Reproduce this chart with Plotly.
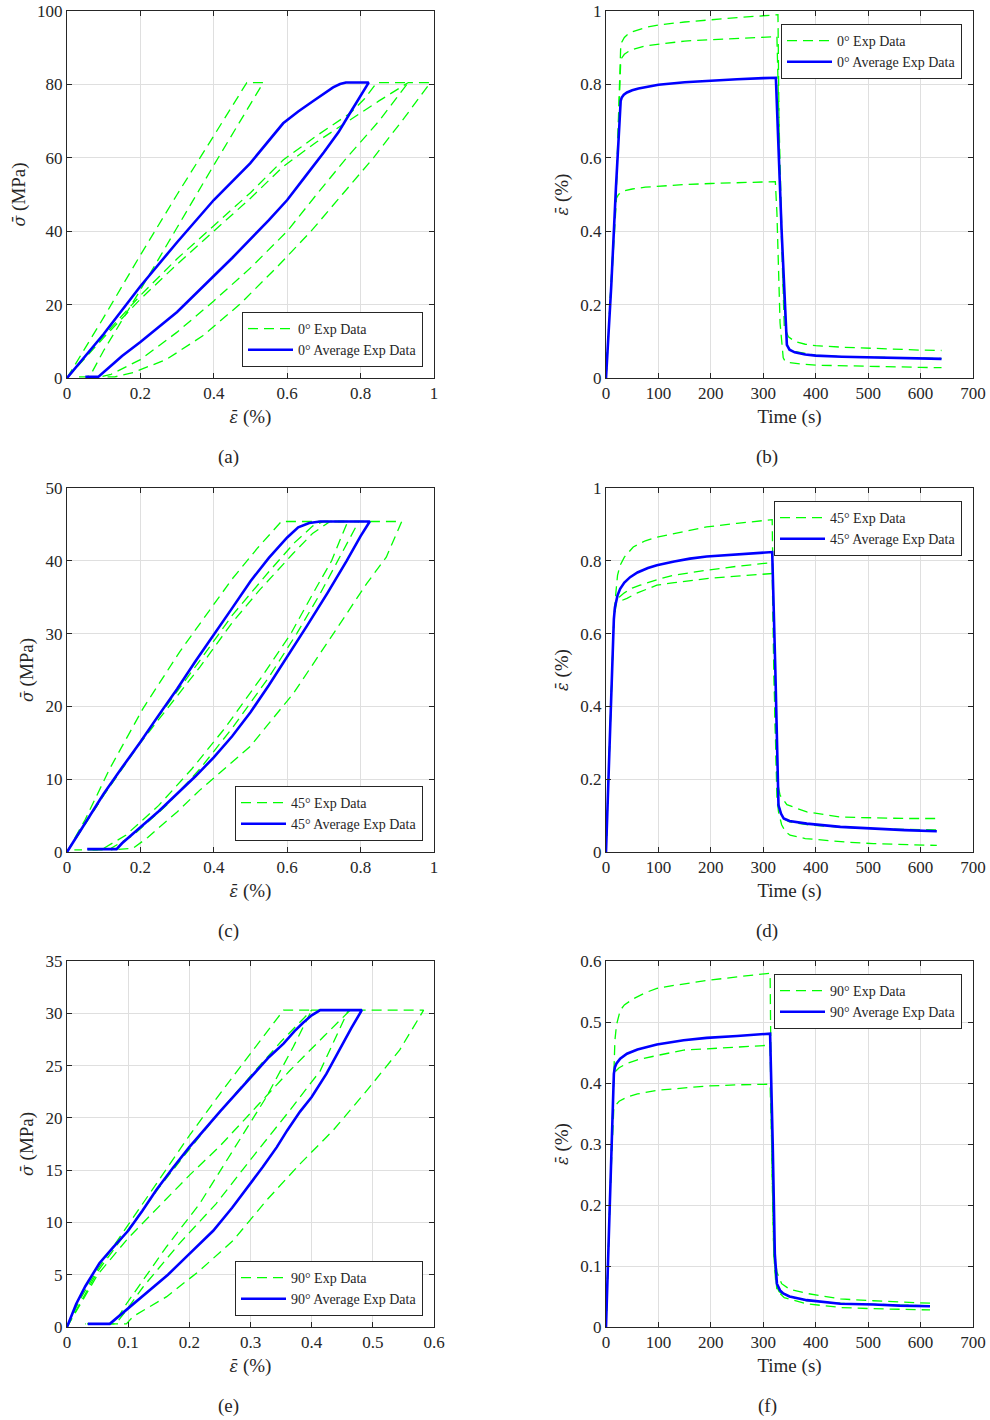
import plotly.graph_objects as go

# ---------------- DATA ----------------
# (a) 0 deg stress-strain loops (strain %, stress MPa)
a_exp1_strain = [0, 0.1, 0.2, 0.3, 0.4, 0.5, 0.589, 0.68, 0.771, 0.85, 0.93, 0.99,
                 0.92, 0.835, 0.75, 0.665, 0.57, 0.47, 0.37, 0.27, 0.18, 0.13, 0.10]
a_exp1_stress = [0, 11, 21.5, 31, 40, 49, 57.6, 64.3, 70.3, 75.5, 80.5, 80.5,
                 71, 60, 50, 40, 30, 20, 11.5, 5, 1.5, 0.3, 0.3]
a_exp2_strain = [0, 0.1, 0.2, 0.3, 0.4, 0.5, 0.589, 0.68, 0.771, 0.81, 0.844, 0.93,
                 0.85, 0.762, 0.68, 0.6, 0.5, 0.4, 0.3, 0.2, 0.12, 0.09, 0.06]
a_exp2_stress = [0, 11.5, 22.5, 32.5, 41.5, 50.5, 59.4, 66, 72.1, 76, 80.5, 80.5,
                 70, 60, 50, 40, 30, 21, 12.5, 5, 1, 0.3, 0.3]
a_exp3_strain = [0, 0.1, 0.2, 0.3, 0.4, 0.49, 0.535,
                 0.45, 0.4, 0.3, 0.2, 0.1, 0.065, 0.055, 0.03]
a_exp3_stress = [0, 16.5, 33.5, 50, 66, 80.5, 80.5,
                 66.5, 58, 41, 24, 7.5, 1, 0.3, 0.3]
a_avg_strain = [0, 0.05, 0.1, 0.2, 0.3, 0.4, 0.499, 0.589, 0.63, 0.67, 0.7, 0.725, 0.744,
                0.76, 0.822, 0.8, 0.77, 0.74, 0.7, 0.65, 0.6, 0.55, 0.5, 0.45, 0.4, 0.3,
                0.2, 0.15, 0.13, 0.1, 0.085, 0.05]
a_avg_stress = [0, 6, 12, 25, 37, 48.5, 58.5, 69.4, 72.6, 75.4, 77.6, 79.2, 80.1,
                80.5, 80.5, 77, 72, 67, 61.5, 55, 48.5, 43, 37.8, 32.7, 27.8, 18,
                9.8, 6, 4.2, 1.5, 0.3, 0.3]

# (b) 0 deg strain vs time (s, %)
b_exp1_time = [0, 10, 20, 24, 28, 30, 35, 42, 50, 75, 100, 150, 200, 250, 300, 328, 331,
               340, 348, 360, 380, 400, 450, 500, 550, 600, 640]
b_exp1_strain = [0, 0.26, 0.53, 0.72, 0.90, 0.915, 0.928, 0.937, 0.943, 0.955, 0.962,
                 0.970, 0.977, 0.982, 0.987, 0.99, 0.55, 0.14, 0.112, 0.1, 0.092, 0.088,
                 0.084, 0.081, 0.078, 0.076, 0.075]
b_exp2_time = [0, 10, 20, 24, 28, 30, 35, 42, 50, 75, 100, 150, 200, 250, 300, 326, 330,
               338, 345, 350, 360, 380, 400, 450, 500, 550, 600, 640]
b_exp2_strain = [0, 0.26, 0.53, 0.7, 0.86, 0.872, 0.882, 0.889, 0.895, 0.905, 0.91, 0.918,
                 0.922, 0.925, 0.928, 0.93, 0.7, 0.25, 0.09, 0.078, 0.072, 0.066, 0.062,
                 0.058, 0.056, 0.055, 0.054, 0.053]
b_exp3_time = [0, 10, 20, 24, 28, 35, 50, 75, 100, 150, 200, 250, 300, 323, 326, 332, 338,
               342, 350, 360, 380, 400, 450, 500, 550, 600, 640]
b_exp3_strain = [0, 0.25, 0.49, 0.5, 0.505, 0.51, 0.515, 0.52, 0.523, 0.527, 0.53, 0.532,
                 0.534, 0.535, 0.45, 0.15, 0.055, 0.045, 0.042, 0.04, 0.037, 0.035, 0.033,
                 0.031, 0.03, 0.029, 0.028]
b_avg_time = [0, 10, 19, 24, 28, 30, 34, 40, 50, 62, 75, 100, 150, 200, 250, 300, 324, 335,
              345, 350, 360, 380, 400, 450, 500, 550, 600, 640]
b_avg_strain = [0, 0.25, 0.52, 0.64, 0.755, 0.764, 0.772, 0.778, 0.784, 0.789, 0.793, 0.799,
                0.806, 0.811, 0.814, 0.817, 0.818, 0.40, 0.09, 0.077, 0.07, 0.064, 0.061,
                0.058, 0.056, 0.054, 0.053, 0.052]

# (c) 45 deg stress-strain loops
c_exp1_strain = [0, 0.05, 0.116, 0.207, 0.307, 0.362, 0.45, 0.52, 0.584, 0.795,
                 0.77, 0.739, 0.69, 0.626, 0.55, 0.45, 0.362, 0.271, 0.18, 0.12, 0.1, 0.06]
c_exp1_stress = [0, 4.5, 11.4, 19.7, 27.5, 31.4, 37.5, 41.8, 45.4, 45.4,
                 43, 40, 35.5, 30, 24, 17, 11.4, 6.4, 2.3, 0.5, 0.3, 0.3]
c_exp2_strain = [0, 0.1, 0.2, 0.3, 0.362, 0.45, 0.525, 0.616, 0.67, 0.717, 0.912,
                 0.87, 0.817, 0.726, 0.617, 0.499, 0.362, 0.3, 0.22, 0.18, 0.12]
c_exp2_stress = [0, 7.8, 15, 21.5, 25.4, 31.5, 36, 41, 43.8, 45.4, 45.4,
                 40.5, 36.9, 30, 21.8, 14.5, 8.5, 5.5, 2, 0.5, 0.3]
c_exp3_strain = [0, 0.1, 0.2, 0.3, 0.362, 0.45, 0.55, 0.62, 0.67, 0.70, 0.765,
                 0.745, 0.721, 0.67, 0.61, 0.53, 0.43, 0.34, 0.25, 0.16, 0.1, 0.08, 0.02]
c_exp3_stress = [0, 7.8, 15.2, 22, 26.3, 32.5, 38.5, 42.5, 44.8, 45.4, 45.4,
                 43, 40, 35.5, 30, 24, 17, 11.4, 6.4, 2.3, 0.5, 0.3, 0.3]
c_avg_strain = [0, 0.05, 0.1, 0.15, 0.2, 0.25, 0.3, 0.35, 0.4, 0.45, 0.5, 0.55, 0.6, 0.63,
                0.66, 0.69, 0.825, 0.8, 0.762, 0.71, 0.653, 0.6, 0.55, 0.5, 0.45, 0.4,
                0.35, 0.3, 0.25, 0.2, 0.15, 0.135, 0.055]
c_avg_stress = [0, 4, 8, 11.6, 15.1, 18.8, 22.4, 26.2, 29.8, 33.5, 37.2, 40.4, 43.2, 44.6,
                45.2, 45.4, 45.4, 43.4, 40, 35.6, 31, 26.8, 22.9, 19.2, 15.9, 13,
                10.4, 8, 5.6, 3.4, 1.2, 0.4, 0.4]

# (d) 45 deg strain vs time
d_exp1_time = [0, 8, 15, 18, 22, 27, 35, 52, 75, 97, 130, 160, 192, 250, 317, 318, 322,
               326, 332, 345, 383, 447, 510, 570, 631]
d_exp1_strain = [0, 0.35, 0.64, 0.70, 0.76, 0.788, 0.81, 0.838, 0.855, 0.865, 0.875, 0.884,
                 0.893, 0.903, 0.913, 0.8, 0.4, 0.2, 0.156, 0.13, 0.11, 0.096, 0.093,
                 0.092, 0.092]
d_exp2_time = [0, 8, 15, 19, 25, 35, 50, 65, 97, 128, 160, 192, 250, 317, 322, 328, 334,
               340, 350, 383, 447, 510, 570, 631]
d_exp2_strain = [0, 0.35, 0.64, 0.69, 0.70, 0.712, 0.725, 0.733, 0.748, 0.76, 0.768, 0.774,
                 0.785, 0.795, 0.5, 0.14, 0.1, 0.09, 0.083, 0.075, 0.068, 0.064, 0.062, 0.061]
d_exp3_time = [0, 8, 15, 20, 25, 40, 60, 97, 130, 160, 192, 250, 317, 320, 326, 329, 335,
               342, 351, 380, 415, 460, 510, 570, 631]
d_exp3_strain = [0, 0.35, 0.64, 0.685, 0.688, 0.697, 0.712, 0.733, 0.74, 0.746, 0.751, 0.758,
                 0.765, 0.5, 0.15, 0.11, 0.075, 0.056, 0.046, 0.037, 0.032, 0.027, 0.023,
                 0.02, 0.018]
d_avg_time = [0, 8, 15, 17, 19, 22, 27, 35, 46, 60, 80, 97, 130, 160, 192, 250, 317, 323,
              329, 334, 339, 350, 383, 447, 510, 570, 631]
d_avg_strain = [0, 0.35, 0.64, 0.672, 0.69, 0.705, 0.723, 0.74, 0.755, 0.768, 0.78, 0.788,
                0.798, 0.806, 0.812, 0.818, 0.824, 0.5, 0.128, 0.105, 0.092, 0.085, 0.078,
                0.069, 0.064, 0.06, 0.057]

# (e) 90 deg stress-strain loops
e_exp1_strain = [0, 0.05, 0.1, 0.15, 0.2, 0.25, 0.3, 0.364, 0.42, 0.463, 0.583,
                 0.544, 0.49, 0.435, 0.381, 0.326, 0.272, 0.217, 0.163, 0.108, 0.097, 0.03]
e_exp1_stress = [0, 5, 8.5, 11.5, 14.5, 17.3, 20.5, 24.5, 27.8, 30.3, 30.3,
                 26.5, 22.6, 18.8, 15.6, 12.1, 8.3, 5.4, 2.9, 1, 0.3, 0.3]
e_exp2_strain = [0, 0.05, 0.1, 0.15, 0.2, 0.25, 0.3, 0.35, 0.40, 0.46,
                 0.414, 0.364, 0.304, 0.244, 0.184, 0.124, 0.097, 0.08, 0.05]
e_exp2_stress = [0, 5.3, 9.3, 13.3, 17, 20.6, 24, 27.3, 30.3, 30.3,
                 24.5, 20.7, 16.3, 11.8, 8, 3.8, 1.6, 0.3, 0.3]
e_exp3_strain = [0, 0.02, 0.05, 0.1, 0.15, 0.2, 0.25, 0.3, 0.33, 0.354, 0.40,
                 0.37, 0.326, 0.272, 0.217, 0.163, 0.119, 0.097, 0.08, 0.07, 0.03]
e_exp3_stress = [0, 2.5, 5.5, 9.8, 14, 18.3, 22.3, 26.2, 28.5, 30.3, 30.3,
                 26.8, 22, 16.9, 11.8, 7.7, 4.1, 2.2, 0.6, 0.3, 0.3]
e_avg_strain = [0, 0.015, 0.03, 0.053, 0.075, 0.1, 0.123, 0.146, 0.173, 0.2, 0.25, 0.3,
                0.33, 0.354, 0.372, 0.386, 0.4, 0.414, 0.482, 0.465, 0.445, 0.424, 0.4,
                0.381, 0.36, 0.343, 0.32, 0.3, 0.27, 0.239, 0.215, 0.195, 0.165, 0.135,
                0.115, 0.097, 0.081, 0.07, 0.034]
e_avg_stress = [0, 2.2, 3.9, 6.1, 7.6, 9.2, 11.1, 13.1, 15.2, 17.2, 20.6, 23.9,
                25.8, 27.1, 28.3, 29.1, 29.8, 30.3, 30.3, 28.6, 26.4, 24.2, 22,
                20.6, 18.8, 17.2, 15.3, 13.7, 11.4, 9.2, 7.8, 6.7, 5, 3.5,
                2.5, 1.6, 0.8, 0.3, 0.3]

# (f) 90 deg strain vs time
f_exp1_time = [0, 8, 15, 17, 20, 27, 35, 52, 75, 97, 130, 160, 192, 250, 313, 315, 318, 322,
               326, 335, 350, 383, 447, 510, 560, 618]
f_exp1_strain = [0, 0.22, 0.415, 0.47, 0.495, 0.519, 0.528, 0.538, 0.548, 0.555, 0.56, 0.564,
                 0.568, 0.574, 0.58, 0.4, 0.2, 0.12, 0.09, 0.071, 0.062, 0.055, 0.046, 0.043,
                 0.041, 0.039]
f_exp2_time = [0, 8, 15, 17, 25, 40, 60, 97, 148, 192, 250, 313, 316, 320, 324, 330, 340,
               383, 447, 510, 560, 618]
f_exp2_strain = [0, 0.22, 0.415, 0.418, 0.425, 0.432, 0.438, 0.445, 0.454, 0.456, 0.459,
                 0.462, 0.3, 0.12, 0.07, 0.058, 0.052, 0.043, 0.039, 0.037, 0.036, 0.035]
f_exp3_time = [0, 8, 15, 17, 25, 40, 60, 97, 148, 192, 250, 300, 313, 316, 320, 326, 340,
               383, 447, 510, 560, 618]
f_exp3_strain = [0, 0.22, 0.36, 0.362, 0.37, 0.377, 0.382, 0.388, 0.392, 0.395, 0.397, 0.398,
                 0.398, 0.3, 0.12, 0.06, 0.048, 0.038, 0.032, 0.03, 0.029, 0.028]
f_avg_time = [0, 8, 15, 17, 20, 27, 40, 60, 97, 148, 192, 250, 313, 318, 322, 326, 332, 338,
              350, 383, 447, 510, 560, 618]
f_avg_strain = [0, 0.22, 0.415, 0.426, 0.432, 0.44, 0.448, 0.455, 0.463, 0.47, 0.474, 0.477,
                0.481, 0.3, 0.12, 0.071, 0.06, 0.055, 0.05, 0.044, 0.038, 0.037, 0.035, 0.034]

orientations = ["0°", "45°", "90°"]
panel_labels = ["(a)", "(b)", "(c)", "(d)", "(e)", "(f)"]

# ---------------- STYLE ----------------
GREEN = "#00ff00"
BLUE = "#0000ff"
AXC = "#262626"
GRID = "#dfdfdf"
FONT = "Liberation Serif"
W, H = 990, 1420

col_px = [(67, 434), (606, 973)]
row_px = [(11, 378), (488, 852), (961, 1327)]

panels = [
    dict(exps=[(a_exp1_strain, a_exp1_stress), (a_exp2_strain, a_exp2_stress),
               (a_exp3_strain, a_exp3_stress)], avg=(a_avg_strain, a_avg_stress),
         ori=0, xr=[0, 1], xd=0.2, yr=[0, 100], yd=20, kind="ss", leg="br"),
    dict(exps=[(b_exp1_time, b_exp1_strain), (b_exp2_time, b_exp2_strain),
               (b_exp3_time, b_exp3_strain)], avg=(b_avg_time, b_avg_strain),
         ori=0, xr=[0, 700], xd=100, yr=[0, 1], yd=0.2, kind="ts", leg="tr"),
    dict(exps=[(c_exp1_strain, c_exp1_stress), (c_exp2_strain, c_exp2_stress),
               (c_exp3_strain, c_exp3_stress)], avg=(c_avg_strain, c_avg_stress),
         ori=1, xr=[0, 1], xd=0.2, yr=[0, 50], yd=10, kind="ss", leg="br"),
    dict(exps=[(d_exp1_time, d_exp1_strain), (d_exp2_time, d_exp2_strain),
               (d_exp3_time, d_exp3_strain)], avg=(d_avg_time, d_avg_strain),
         ori=1, xr=[0, 700], xd=100, yr=[0, 1], yd=0.2, kind="ts", leg="tr"),
    dict(exps=[(e_exp1_strain, e_exp1_stress), (e_exp2_strain, e_exp2_stress),
               (e_exp3_strain, e_exp3_stress)], avg=(e_avg_strain, e_avg_stress),
         ori=2, xr=[0, 0.6], xd=0.1, yr=[0, 35], yd=5, kind="ss", leg="br"),
    dict(exps=[(f_exp1_time, f_exp1_strain), (f_exp2_time, f_exp2_strain),
               (f_exp3_time, f_exp3_strain)], avg=(f_avg_time, f_avg_strain),
         ori=2, xr=[0, 700], xd=100, yr=[0, 0.6], yd=0.1, kind="ts", leg="tr"),
]

fig = go.Figure()
layout = dict(width=W, height=H, margin=dict(l=0, r=0, t=0, b=0, pad=0), autosize=False,
              paper_bgcolor="white", plot_bgcolor="white",
              font=dict(family=FONT, color=AXC), annotations=[])

eps_title = '<span style="font-family:DejaVu Serif;font-size:16px"><i>ε̄</i></span> (%)'
sig_title = '<span style="font-family:DejaVu Serif;font-size:16px"><i>σ̄</i></span> (MPa)'

for i, p in enumerate(panels):
    r, c = divmod(i, 2)
    n = "" if i == 0 else str(i + 1)
    xa, ya = "x" + n, "y" + n
    legname = "legend" + n
    x0, x1 = col_px[c]
    y0, y1 = row_px[r]
    name = orientations[p["ori"]]
    for j, (xs, ys) in enumerate(p["exps"]):
        fig.add_trace(go.Scatter(x=xs, y=ys, mode="lines", xaxis=xa, yaxis=ya,
                                 line=dict(color=GREEN, width=1.3, dash="10px,6px"),
                                 name=name + " Exp Data", showlegend=(j == 0),
                                 legend=legname))
    fig.add_trace(go.Scatter(x=p["avg"][0], y=p["avg"][1], mode="lines", xaxis=xa, yaxis=ya,
                             line=dict(color=BLUE, width=2.6),
                             name=name + " Average Exp Data", legend=legname))

    common = dict(showline=True, linecolor=AXC, linewidth=1, mirror="ticks",
                  ticks="inside", ticklen=5, tickcolor=AXC, tickwidth=1,
                  showgrid=True, gridcolor=GRID, gridwidth=1, zeroline=False,
                  automargin=False,
                  tickfont=dict(family=FONT, size=17, color=AXC))
    xtitle = eps_title if p["kind"] == "ss" else "Time (s)"
    ytitle = sig_title if p["kind"] == "ss" else eps_title
    layout["xaxis" + n] = dict(common, domain=[x0 / W, x1 / W], range=p["xr"], dtick=p["xd"],
                               tick0=0, anchor=ya,
                               title=dict(text=xtitle, font=dict(family=FONT, size=19, color=AXC),
                                          standoff=7))
    layout["yaxis" + n] = dict(common, domain=[1 - y1 / H, 1 - y0 / H], range=p["yr"],
                               dtick=p["yd"], tick0=0, anchor=xa,
                               title=dict(text=ytitle, font=dict(family=FONT, size=19, color=AXC),
                                          standoff=6))
    leg = dict(bgcolor="white", bordercolor=AXC, borderwidth=1,
               font=dict(family=FONT, size=14, color=AXC), itemwidth=45,
               tracegroupgap=0, traceorder="normal")
    if p["leg"] == "br":
        leg.update(x=(x1 - 11) / W, y=1 - (y1 - 11) / H, xanchor="right", yanchor="bottom")
    else:
        leg.update(x=(x1 - 11) / W, y=1 - (y0 + 13) / H, xanchor="right", yanchor="top")
    layout[legname] = leg
    layout["annotations"].append(dict(text=panel_labels[i], xref="paper", yref="paper",
                                      x=(x0 + x1) / 2 / W - 22 / W, y=1 - (y1 + 79) / H,
                                      showarrow=False, xanchor="center", yanchor="middle",
                                      font=dict(family=FONT, size=19, color=AXC)))

fig.update_layout(**layout)
fig.write_html("out.html")
